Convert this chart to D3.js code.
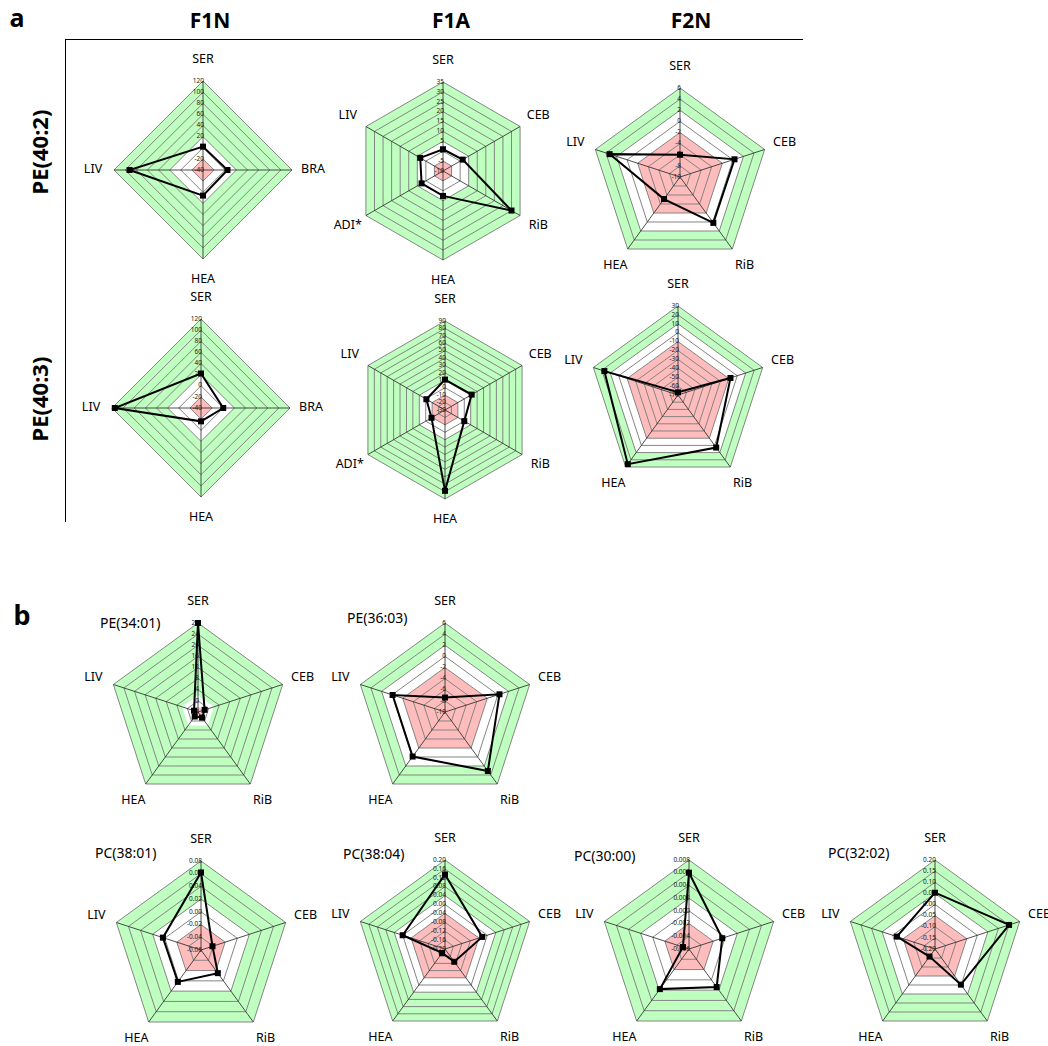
<!DOCTYPE html>
<html>
<head>
<meta charset="utf-8">
<script src="https://cdn.jsdelivr.net/npm/d3@7"></script>
<style>
  body { margin: 0; background: #fff; font-family: 'Noto Sans', sans-serif; }
</style>
</head>
<body>
<div id="chart"></div>
<script>
// axis sets
const axesDiamond = ['SER', 'BRA', 'HEA', 'LIV'];
const axesHex = ['SER', 'CEB', 'RiB', 'HEA', 'ADI*', 'LIV'];
const axesPent = ['SER', 'CEB', 'RiB', 'HEA', 'LIV'];

// column / row headers
const colHeaders = ['F1N', 'F1A', 'F2N'];
const rowHeaders = ['PE(40:2)', 'PE(40:3)'];

// one entry per radar, in drawing order
const titles = ['', '', '', '', '', '', 'PE(34:01)', 'PE(36:03)', 'PC(38:01)', 'PC(38:04)', 'PC(30:00)', 'PC(32:02)'];
const axisSets = [axesDiamond, axesHex, axesPent, axesDiamond, axesHex, axesPent,
  axesPent, axesPent, axesPent, axesPent, axesPent, axesPent];
const domains = [[-40, 120], [-10, 35], [-10, 6], [-40, 120], [-30, 90], [-70, 30],
  [-4, 28], [-10, 6], [-0.06, 0.08], [-0.2, 0.2], [-0.006, 0.008], [-0.2, 0.2]];
const steps = [20, 5, 2, 20, 10, 10, 4, 2, 0.02, 0.04, 0.002, 0.05];
// white band runs from -threshold to +threshold
const thresholds = [20, 5, 2, 20, 10, 10, 2, 2, 0.02, 0.04, 0.002, 0.05];

// series values (axis order as above)
const pe402F1N = [2, 4, 6, 92];
const pe402F1A = [1, 1.5, 30, 2.6, 2.5, 3.3];
const pe402F2N = [-6, 0.3, 0.2, -5.1, 3.3];
const pe403F1N = [22, 0, -16, 115];
const pe403F1A = [11, 11.5, 0, 79, -9, -1];
const pe403F2N = [-67, -8, 3, 26, 17];
const pe3401 = [28, -1.5, -1.5, -2, -2.5];
const pe3603 = [-7.4, 0.3, 3.1, -0.1, -0.1];
const pc3801 = [0.062, -0.041, -0.015, 0.002, 0.003];
const pc3804 = [0.135, -0.024, -0.129, -0.178, 0.0];
const pc3000 = [0.006, -0.0005, 0.0014, 0.0018, -0.005];
const pc3202 = [0.053, 0.15, -0.002, -0.158, -0.02];
const seriesList = [pe402F1N, pe402F1A, pe402F2N, pe403F1N, pe403F1A, pe403F2N,
  pe3401, pe3603, pc3801, pc3804, pc3000, pc3202];

// layout
const width = 1048, height = 1046;
const R = 89;
const centers = [[203, 170], [443, 171], [680, 177], [201, 408], [445, 410], [678, 395],
  [198, 712], [445, 712], [201, 950], [445, 949], [689, 949], [935, 949]];
const titleOffsets = [null, null, null, null, null, null,
  [-98, -88], [-98, -93], [-106, -96], [-102, -94], [-115, -92], [-107, -95]];

const green = '#bfffbf';
const pink = '#ffbcbc';

const locale = d3.formatLocale({ decimal: '.', thousands: ',', grouping: [3], currency: ['', ''], minus: '-' });

const svg = d3.select('#chart').append('svg')
  .attr('width', width)
  .attr('height', height);

// panel letters, headers and frame lines
svg.append('text').attr('x', 17).attr('y', 20).attr('text-anchor', 'middle')
  .attr('dominant-baseline', 'middle').attr('font-size', 25).attr('font-weight', 'bold').text('a');
svg.append('text').attr('x', 22).attr('y', 618).attr('text-anchor', 'middle')
  .attr('dominant-baseline', 'middle').attr('font-size', 27).attr('font-weight', 'bold').text('b');

const colX = [210, 451, 691];
svg.selectAll('text.colHead').data(colHeaders).join('text')
  .attr('class', 'colHead')
  .attr('x', (d, i) => colX[i]).attr('y', 22)
  .attr('text-anchor', 'middle').attr('dominant-baseline', 'middle')
  .attr('font-size', 21).attr('font-weight', 'bold')
  .text(d => d);

const rowY = [152, 399];
svg.selectAll('text.rowHead').data(rowHeaders).join('text')
  .attr('class', 'rowHead')
  .attr('transform', (d, i) => 'translate(42,' + rowY[i] + ') rotate(-90)')
  .attr('text-anchor', 'middle').attr('dominant-baseline', 'middle')
  .attr('font-size', 22)
  .attr('font-weight', 'bold')
  .text(d => d);

svg.append('line').attr('x1', 65).attr('x2', 803).attr('y1', 39.5).attr('y2', 39.5)
  .attr('stroke', '#000').attr('stroke-width', 1);
svg.append('line').attr('x1', 65.5).attr('x2', 65.5).attr('y1', 39).attr('y2', 522)
  .attr('stroke', '#000').attr('stroke-width', 1);

function drawRadar(idx) {
  const axes = axisSets[idx];
  const domain = domains[idx];
  const step = steps[idx];
  const thr = thresholds[idx];
  const values = seriesList[idx];
  const n = axes.length;
  const g = svg.append('g')
    .attr('transform', 'translate(' + centers[idx][0] + ',' + centers[idx][1] + ')');

  const r = d3.scaleLinear().domain(domain).range([0, R]);
  const ang = i => i * 2 * Math.PI / n;
  const pt = (i, v) => [Math.sin(ang(i)) * r(v), -Math.cos(ang(i)) * r(v)];
  const ring = v => d3.range(n).map(i => pt(i, v));
  const closed = d3.line().curve(d3.curveLinearClosed);

  const nTicks = Math.round((domain[1] - domain[0]) / step);
  const ticks = d3.range(0, nTicks + 1).map(k => +(domain[0] + k * step).toFixed(10));
  const fmt = locale.format('.' + d3.precisionFixed(step) + 'f');

  // coloured bands
  const bands = [
    { v: domain[1], c: green },
    { v: thr, c: '#ffffff' },
    { v: -thr, c: pink },
  ];
  g.selectAll('path.band').data(bands).join('path')
    .attr('class', 'band')
    .attr('d', d => closed(ring(d.v)))
    .attr('fill', d => d.c)
    .attr('stroke', 'none');

  // grid rings
  g.selectAll('path.grid').data(ticks.slice(1)).join('path')
    .attr('class', 'grid')
    .attr('d', d => closed(ring(d)))
    .attr('fill', 'none')
    .attr('stroke', '#858585')
    .attr('stroke-width', 1);

  // spokes
  g.selectAll('line.spoke').data(axes).join('line')
    .attr('class', 'spoke')
    .attr('x1', 0).attr('y1', 0)
    .attr('x2', (d, i) => pt(i, domain[1])[0])
    .attr('y2', (d, i) => pt(i, domain[1])[1])
    .attr('stroke', '#222')
    .attr('stroke-width', 0.8);

  // tick labels along the first axis
  g.selectAll('text.tick').data(ticks).join('text')
    .attr('class', 'tick')
    .attr('x', 1)
    .attr('y', d => -r(d))
    .attr('text-anchor', 'end')
    .attr('dominant-baseline', 'middle')
    .attr('font-size', 6.5)
    .attr('fill', '#222')
    .text(d => fmt(d));

  // data line
  g.append('path')
    .attr('d', closed(values.map((v, i) => pt(i, v))))
    .attr('fill', 'none')
    .attr('stroke', '#000')
    .attr('stroke-width', 2)
    .attr('stroke-linejoin', 'miter');

  g.selectAll('rect.marker').data(values).join('rect')
    .attr('class', 'marker')
    .attr('x', (d, i) => pt(i, d)[0] - 3)
    .attr('y', (d, i) => pt(i, d)[1] - 3)
    .attr('width', 6).attr('height', 6)
    .attr('fill', '#000');

  // axis labels
  g.selectAll('text.axisLabel').data(axes).join('text')
    .attr('class', 'axisLabel')
    .attr('x', (d, i) => Math.sin(ang(i)) * (R + 21))
    .attr('y', (d, i) => -Math.cos(ang(i)) * (R + 21))
    .attr('text-anchor', 'middle')
    .attr('dominant-baseline', 'middle')
    .attr('font-size', 12.5)
    .attr('fill', '#000')
    .text(d => d);

  if (titles[idx]) {
    g.append('text')
      .attr('x', titleOffsets[idx][0])
      .attr('y', titleOffsets[idx][1])
      .attr('dominant-baseline', 'middle')
      .attr('font-size', 14)
      .attr('fill', '#000')
      .text(titles[idx]);
  }
}

seriesList.forEach((s, i) => drawRadar(i));
</script>
</body>
</html>
